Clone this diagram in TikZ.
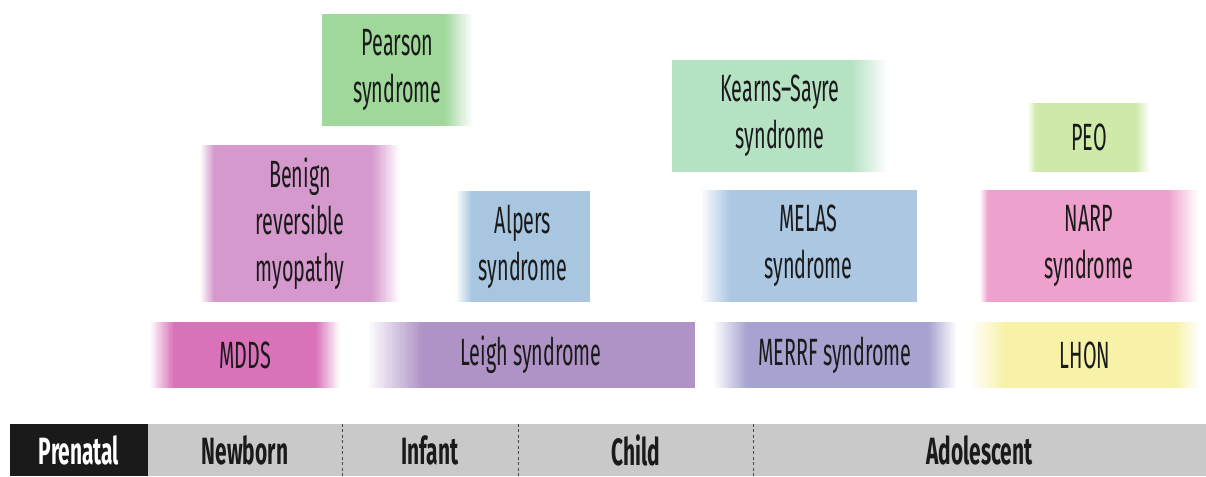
\documentclass[tikz,border=0pt]{standalone}
\usepackage{fontspec}
\setmainfont[FakeStretch=0.52]{Fira Sans}
\newfontfamily\barfont[FakeStretch=0.55]{Fira Sans}
\usepackage{tikz}

\definecolor{ink}{HTML}{1A1A1A}
\definecolor{barC}{HTML}{C9C9C9}
\definecolor{pearsonC}{HTML}{A0D89B}
\definecolor{kssC}{HTML}{B5E2C3}
\definecolor{peoC}{HTML}{CEE9A8}
\definecolor{benignC}{HTML}{D599CD}
\definecolor{alpersC}{HTML}{A9C6E1}
\definecolor{melasC}{HTML}{ABC7E2}
\definecolor{narpC}{HTML}{EEA1CC}
\definecolor{mddsC}{HTML}{D972B8}
\definecolor{leighC}{HTML}{B093C6}
\definecolor{merrfC}{HTML}{A6A3D0}
\definecolor{lhonC}{HTML}{F8F2A9}

% soft edges, built from thin strips going from white to the box colour
\newcommand\leftstrips[2]{%
  \foreach \i in {0,...,19}{
    \pgfmathtruncatemacro\pc{100*(\i+0.5)/20}
    \fill[#1!\pc!white] ([xshift={\i*#2/20}]path picture bounding box.south west)
      rectangle ([xshift={(\i+1)*#2/20+0.3pt}]path picture bounding box.north west);}}
\newcommand\rightstrips[2]{%
  \foreach \i in {0,...,19}{
    \pgfmathtruncatemacro\pc{100*(\i+0.5)/20}
    \fill[#1!\pc!white] ([xshift={-\i*#2/20}]path picture bounding box.south east)
      rectangle ([xshift={-(\i+1)*#2/20-0.3pt}]path picture bounding box.north east);}}
\tikzset{lfade/.style 2 args={path picture={\leftstrips{#1}{#2}}},
         rfade/.style 2 args={path picture={\rightstrips{#1}{#2}}},
         bfade/.style n args={3}{path picture={\leftstrips{#1}{#2}\rightstrips{#1}{#3}}}}

\begin{document}
\begin{tikzpicture}[x=1pt,y=-1pt,inner sep=0pt,
                    font=\fontsize{38}{47}\selectfont]
  \tikzstyle{box}=[rectangle,align=center,text=ink]
  \tikzstyle{period}=[rectangle,minimum height=52pt,text=ink,fill=barC,
                      font=\barfont\fontsize{38}{47}\selectfont\bfseries]
  \tikzstyle{divider}=[draw=ink!80,line width=1.4pt,dash pattern=on 3pt off 2.5pt]

  \useasboundingbox (0,0) rectangle (1206,476);

  % top row
  \node[box,fill=pearsonC,minimum width=151pt,minimum height=112pt,rfade={pearsonC}{28pt}]
        (pearson) at (397.5,70)  {Pearson\\syndrome};
  \node[box,fill=kssC,minimum width=216pt,minimum height=112pt,rfade={kssC}{36pt}]
        (kss)     at (780,116)   {Kearns–Sayre\\syndrome};
  \node[box,fill=peoC,minimum width=122pt,minimum height=69pt,bfade={peoC}{8pt}{14pt}]
        (peo)     at (1089,137.5) {PEO};

  % middle row
  \node[box,fill=benignC,minimum width=200pt,minimum height=157pt,bfade={benignC}{14pt}{28pt}]
        (benign)  at (300,223.5) {Benign\\reversible\\myopathy};
  \node[box,fill=alpersC,minimum width=134pt,minimum height=111pt,lfade={alpersC}{16pt}]
        (alpers)  at (523,246.5) {Alpers\\syndrome};
  \node[box,fill=melasC,minimum width=217pt,minimum height=112pt,lfade={melasC}{30pt}]
        (melas)   at (808.5,246) {MELAS\\syndrome};
  \node[box,fill=narpC,minimum width=218pt,minimum height=112pt,bfade={narpC}{8pt}{30pt}]
        (narp)    at (1089,246)  {NARP\\syndrome};

  % bottom row
  \node[box,fill=mddsC,minimum width=190pt,minimum height=66pt,bfade={mddsC}{24pt}{24pt}]
        (mdds)    at (245,355)   {MDDS};
  \node[box,fill=leighC,minimum width=328pt,minimum height=66pt,lfade={leighC}{55pt}]
        (leigh)   at (531,355)   {Leigh syndrome};
  \node[box,fill=merrfC,minimum width=244pt,minimum height=66pt,bfade={merrfC}{34pt}{28pt}]
        (merrf)   at (835,355)   {MERRF syndrome};
  \node[box,fill=lhonC,minimum width=230pt,minimum height=66pt,bfade={lhonC}{34pt}{24pt}]
        (lhon)    at (1085,355)  {LHON};

  % age bar
  \node[period,fill=ink,text=white,minimum width=138pt] (prenatal)   at (79,450)    {Prenatal};
  \node[period,minimum width=194pt]                     (newborn)    at (245,450)   {Newborn};
  \node[period,minimum width=176pt]                     (infant)     at (430,450)   {Infant};
  \node[period,minimum width=235pt]                     (child)      at (635.5,450) {Child};
  \node[period,minimum width=453pt]                     (adolescent) at (979.5,450) {Adolescent};

  \draw[divider] (newborn.north east) -- (newborn.south east);
  \draw[divider] (infant.north east)  -- (infant.south east);
  \draw[divider] (child.north east)   -- (child.south east);
\end{tikzpicture}
\end{document}
